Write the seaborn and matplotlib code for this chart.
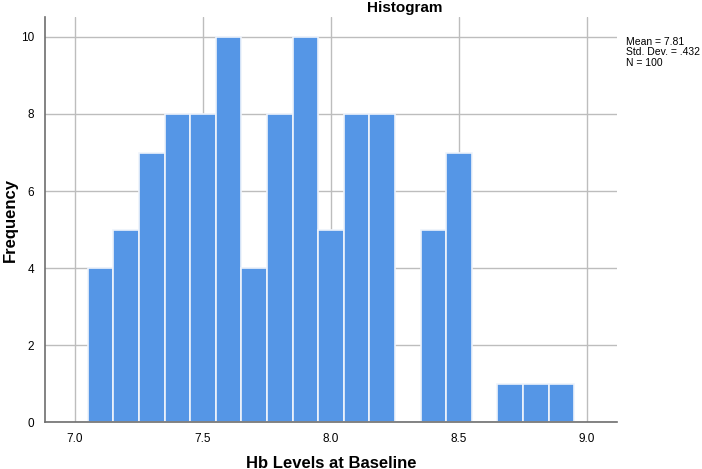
import numpy as np
import pandas as pd
import seaborn as sns
import matplotlib.pyplot as plt

# Hb histogram (SPSS style), bin width 0.1
bin_centers = [7.1, 7.2, 7.3, 7.4, 7.5, 7.6, 7.7, 7.8, 7.9, 8.0,
               8.1, 8.2, 8.3, 8.4, 8.5, 8.6, 8.7, 8.8, 8.9]
counts = [4, 5, 7, 8, 8, 10, 4, 8, 10, 5,
          8, 8, 0, 5, 7, 0, 1, 1, 1]
x_ticks = [7.0, 7.5, 8.0, 8.5, 9.0]
y_ticks = [0, 2, 4, 6, 8, 10]
stats_text = "Mean = 7.81\nStd. Dev. = .432\nN = 100"

df = pd.DataFrame({'Hb': bin_centers, 'count': counts})

sns.set_style('white')
plt.rcParams['font.family'] = ['Liberation Sans', 'DejaVu Sans']
plt.rcParams['text.color'] = 'black'
plt.rcParams['xtick.color'] = 'black'
plt.rcParams['ytick.color'] = 'black'

fig = plt.figure(figsize=(7.02, 4.69), dpi=100)
ax = fig.add_axes([0.0641, 0.1002, 0.8148, 0.8636])

edges = [round(7.05 + 0.1 * i, 2) for i in range(len(bin_centers) + 1)]
sns.histplot(data=df, x='Hb', weights='count', bins=edges, ax=ax,
             color='#5596E6', alpha=1, edgecolor='#EEF3FB', linewidth=1.2, zorder=2)

ax.set_xlim(6.883, 9.117)
ax.set_ylim(0, 10.52)
ax.set_xticks(x_ticks)
ax.set_xticklabels([f'{v:.1f}' for v in x_ticks], fontsize=8.5)
ax.set_yticks(y_ticks)
ax.set_yticklabels([str(v) for v in y_ticks], fontsize=8.5)
ax.tick_params(length=0, pad=8)
ax.grid(True, color='#BDBDBD', linewidth=1, zorder=0)
ax.set_axisbelow(True)
for s in ['top', 'right']:
    ax.spines[s].set_visible(False)
for s in ['left', 'bottom']:
    ax.spines[s].set_color('#6E6E6E')
    ax.spines[s].set_linewidth(1.2)

ax.set_xlabel('')
ax.set_ylabel('')
fig.text(331 / 702, 1 - 463 / 469, 'Hb Levels at Baseline', ha='center', va='center',
         fontsize=12, fontweight='bold')
fig.text(10 / 702, 1 - 220 / 469, 'Frequency', ha='center', va='center',
         rotation=90, fontsize=12, fontweight='bold')
fig.text(405 / 702, 1 - 8 / 469, 'Histogram', ha='center', va='center',
         fontsize=11, fontweight='bold')
fig.text(626 / 702, 1 - 37 / 469, stats_text, ha='left', va='top',
         fontsize=7.5, linespacing=1.05)

fig.savefig('out.png', dpi=100)
